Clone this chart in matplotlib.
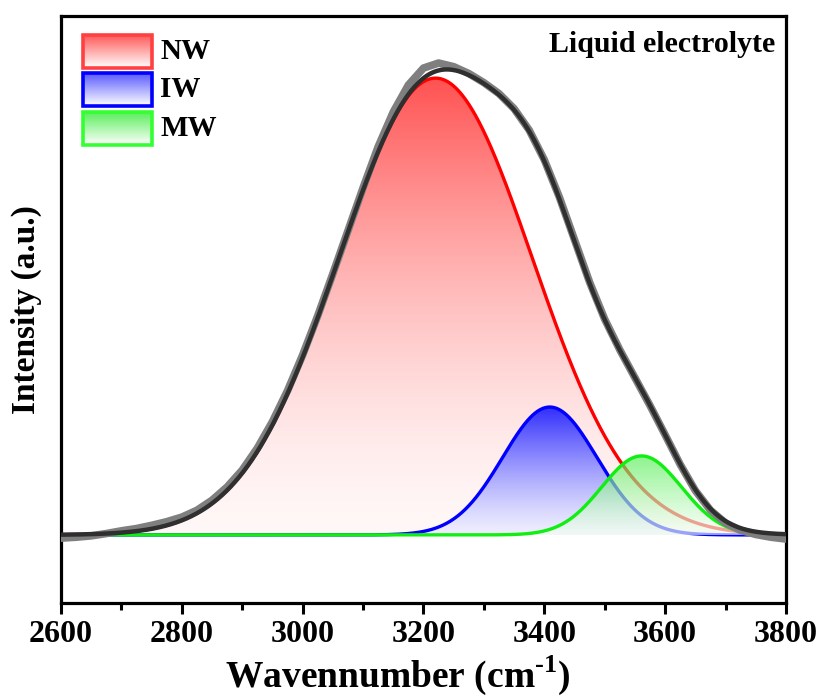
import numpy as np
import matplotlib
matplotlib.use("Agg")
import matplotlib.pyplot as plt
from matplotlib.patches import PathPatch, Rectangle
from matplotlib.path import Path
from matplotlib.ticker import MultipleLocator

plt.rcParams["font.family"] = ["Liberation Serif", "DejaVu Serif"]
plt.rcParams["font.weight"] = "bold"
plt.rcParams["mathtext.fontset"] = "custom"
plt.rcParams["mathtext.rm"] = "Liberation Serif:bold"
plt.rcParams["mathtext.bf"] = "Liberation Serif:bold"

# Fitted O-H stretching components: centre (cm-1), gaussian sigma (cm-1), height (a.u.)
components = ["NW", "IW", "MW"]
centers = [3220, 3409, 3561]
sigmas = [160, 78, 66]
heights = [1.0, 0.28, 0.173]
line_colors = ["#ff0000", "#0000ff", "#11ee11"]
fill_rgb = [(1.0, 0.0, 0.0), (0.0, 0.0, 1.0), (0.0, 0.9, 0.0)]

# Measured spectrum, sampled every 25 cm-1 from 2600 to 3800
measured_x = np.arange(2600, 3801, 25)
measured_y = [-0.007, -0.005, -0.002, 0.003, 0.009, 0.014, 0.021, 0.029, 0.039,
              0.054, 0.076, 0.105, 0.142, 0.190, 0.248, 0.316, 0.394,
              0.480, 0.572, 0.666, 0.760, 0.850, 0.926, 0.985, 1.022,
              1.033, 1.025, 1.010, 0.990, 0.966, 0.933, 0.886, 0.821,
              0.739, 0.646, 0.553, 0.472, 0.405, 0.344, 0.283, 0.219,
              0.154, 0.097, 0.054, 0.026, 0.010, 0.001, -0.005, -0.009]

x_ticks = [2600, 2800, 3000, 3200, 3400, 3600, 3800]


def gaussian(x, c, s, h):
    return h * np.exp(-(x - c) ** 2 / (2 * s ** 2))


def gradient_image(rgb, a_floor, a_top, power, alpha):
    t = np.linspace(0, 1, 256)[:, None]
    a = a_floor + (a_top - a_floor) * t ** power
    col = 1 - a * (1 - np.array(rgb)[None, :])
    rgba = np.concatenate([col, np.full((256, 1), alpha)], axis=1)
    return rgba[:, None, :]


def gradient_fill(ax, x, y, rgb, a_floor, a_top, power, alpha, zorder):
    verts = np.concatenate([np.column_stack([x, y]),
                            [[x[-1], 0.0], [x[0], 0.0], [x[0], y[0]]]])
    codes = [Path.MOVETO] + [Path.LINETO] * (len(verts) - 2) + [Path.CLOSEPOLY]
    clip = PathPatch(Path(verts, codes), transform=ax.transData,
                     facecolor="none", edgecolor="none")
    ax.add_patch(clip)
    im = ax.imshow(gradient_image(rgb, a_floor, a_top, power, alpha),
                   extent=[x[0], x[-1], 0, y.max()], origin="lower",
                   aspect="auto", interpolation="bilinear", zorder=zorder)
    im.set_clip_path(clip)


fig = plt.figure(figsize=(8.22, 6.98), dpi=100)
ax = fig.add_axes([0.0742, 0.1361, 0.8820, 0.8410])

x = np.linspace(2600, 3800, 1201)
curves = [gaussian(x, c, s, h) for c, s, h in zip(centers, sigmas, heights)]
fit = np.sum(curves, axis=0)

# gradient-filled components, each drawn above the previous one
fill_style = [(0.03, 0.68, 1.6, 1.0), (0.07, 0.90, 1.3, 0.9), (0.05, 0.70, 1.2, 0.65)]
for i, (yc, rgb, lc) in enumerate(zip(curves, fill_rgb, line_colors)):
    fl, ft, pw, al = fill_style[i]
    gradient_fill(ax, x, yc, rgb, fl, ft, pw, al, zorder=2 + 2 * i)
    ax.plot(x, yc, color=lc, lw=2.4, zorder=3 + 2 * i, solid_capstyle="butt")

ax.plot(measured_x, measured_y, color="#7f7f7f", lw=5.5, zorder=10,
        solid_joinstyle="round")
ax.plot(x, fit, color="#2f2f2f", lw=3.2, zorder=11)

# legend with gradient swatches
leg_x0, leg_x1 = 0.0303, 0.1255
leg_tops = [0.9676, 0.9029, 0.8365]
leg_h = 0.056
for name, rgb, top in zip(components, fill_rgb, leg_tops):
    ec = {"NW": "#ff4040", "IW": "#0000ff", "MW": "#33ff33"}[name]
    img = gradient_image(rgb, 0.0, 0.65, 1.0, 1.0)
    ax.imshow(img, extent=[leg_x0, leg_x1, top - leg_h, top], origin="lower",
              aspect="auto", transform=ax.transAxes, zorder=20)
    ax.add_patch(Rectangle((leg_x0, top - leg_h), leg_x1 - leg_x0, leg_h,
                           transform=ax.transAxes, facecolor="none",
                           edgecolor=ec, lw=2.6, zorder=21))
    ax.text(0.1366, top - leg_h / 2, name, transform=ax.transAxes,
            fontsize=21, fontweight="bold", va="center", ha="left", zorder=21)

ax.text(0.985, 0.9506, "Liquid electrolyte", transform=ax.transAxes,
        fontsize=21.5, fontweight="bold", ha="right", va="center")

ax.set_xlim(2600, 3800)
ax.set_ylim(-0.149, 1.136)
ax.set_xticks(x_ticks)
ax.xaxis.set_minor_locator(MultipleLocator(100))
ax.set_yticks([])
ax.tick_params(axis="x", which="major", direction="out", length=8, width=2.2,
               labelsize=23, pad=4)
ax.tick_params(axis="x", which="minor", direction="out", length=5, width=2.2)
for lab in ax.get_xticklabels():
    lab.set_fontweight("bold")
for sp in ax.spines.values():
    sp.set_linewidth(2.3)

fig.text(0.484, 0.033, r"Wavennumber (cm$^{\text{-1}}$)", fontsize=27,
         fontweight="bold", ha="center", va="center")
fig.text(0.032, 0.556, "Intensity (a.u.)", fontsize=24, fontweight="bold",
         rotation=90, ha="center", va="center")

fig.savefig("out.png", dpi=100)
